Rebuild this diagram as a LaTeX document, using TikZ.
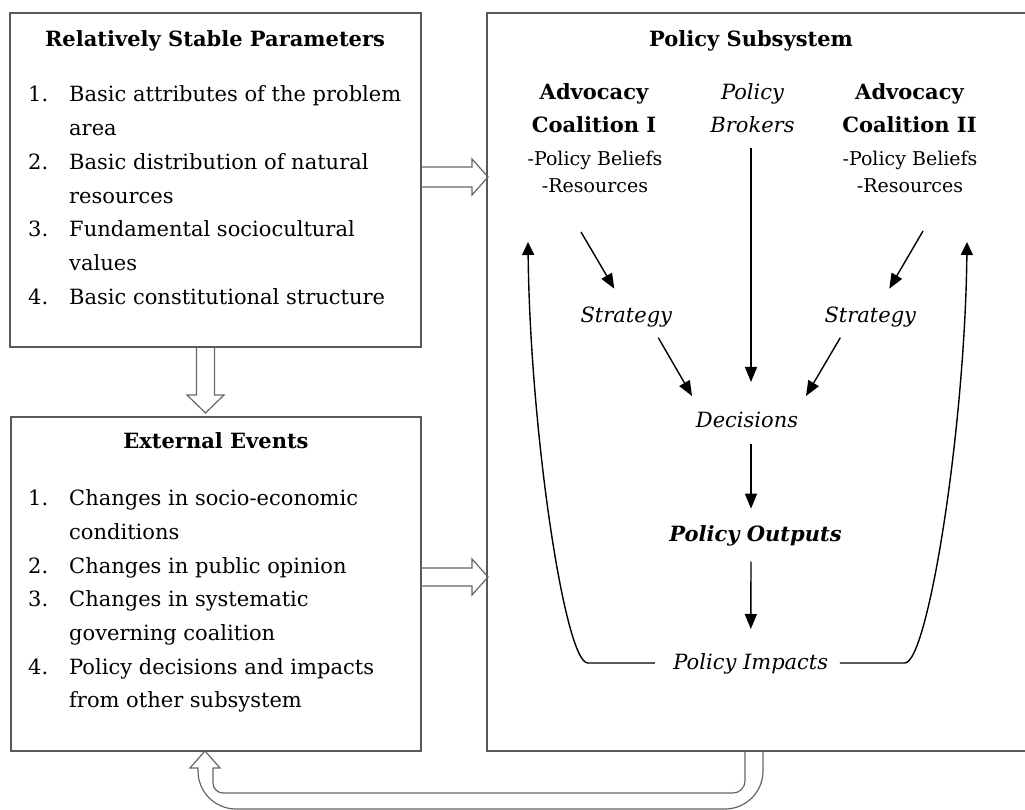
\documentclass[tikz,border=0pt]{standalone}
\usepackage{fontspec}
\setmainfont{DejaVu Serif}
\usepackage{tikz}
\usetikzlibrary{arrows.meta, positioning, calc}
\tikzstyle{panel} = [draw=black!65, line width=1.6pt, rectangle, inner sep=0pt, outer sep=0pt]
\tikzstyle{heading} = [font=\fontsize{21}{30}\selectfont\bfseries, anchor=base, inner sep=0pt]
\tikzstyle{listtext} = [font=\fontsize{21}{33.7}\selectfont, anchor=base west, inner sep=0pt]
\tikzstyle{actor} = [font=\fontsize{21}{33.3}\selectfont\bfseries, align=center, anchor=base, inner sep=0pt]
\tikzstyle{broker} = [font=\fontsize{21}{33}\selectfont\itshape, align=center, anchor=base, inner sep=0pt]
\tikzstyle{resources} = [font=\fontsize{19}{26.3}\selectfont, align=center, anchor=base, inner sep=0pt]
\tikzstyle{stage} = [font=\fontsize{21}{25}\selectfont\itshape, anchor=base, inner sep=0pt]
\tikzstyle{result} = [font=\fontsize{21}{25}\selectfont\bfseries\itshape, anchor=base, inner sep=0pt]
\tikzstyle{arrow} = [line width=1.4pt, -{Triangle[length=15pt,width=12pt]}]
\tikzstyle{feedback} = [line width=1.4pt, -{Triangle[length=13pt,width=12pt]}]
\tikzstyle{hollow} = [draw=black!60, line width=1.2pt, line join=miter]

\begin{document}
\begin{tikzpicture}[x=1pt, y=1pt]
    \useasboundingbox (0,0) rectangle (1025,810);

    % the three panels
    \node (stable) [panel, minimum width=411pt, minimum height=334pt] at (215.5,630) {};
    \node (events) [panel, minimum width=410pt, minimum height=334pt] at (216,226) {};
    \node (subsys) [panel, minimum width=548pt, minimum height=738pt] at (761,428) {};

    \node (stabletitle) [heading] at (215,763) {Relatively Stable Parameters};
    \node (stablelist) [listtext] at (28,708) {\begin{tabular}[t]{@{}p{41pt}@{}l@{}}
        1. & Basic attributes of the problem\\
           & area\\
        2. & Basic distribution of natural\\
           & resources\\
        3. & Fundamental sociocultural\\
           & values\\
        4. & Basic constitutional structure
    \end{tabular}};

    \node (eventstitle) [heading] at (216,361) {External Events};
    \node (eventslist) [listtext] at (28,304.3) {\begin{tabular}[t]{@{}p{41pt}@{}l@{}}
        1. & Changes in socio-economic\\
           & conditions\\
        2. & Changes in public opinion\\
        3. & Changes in systematic\\
           & governing coalition\\
        4. & Policy decisions and impacts\\
           & from other subsystem
    \end{tabular}};

    \node (subsystitle) [heading] at (751,763) {Policy Subsystem};
    \node (coalone) [actor] at (594,677) {Advocacy\\Coalition I};
    \node (beliefsone) [resources] at (595,617.7) {-Policy Beliefs\\-Resources};
    \node (brokers) [broker] at (752.5,677) {Policy\\Brokers};
    \node (coaltwo) [actor] at (909.5,677) {Advocacy\\Coalition II};
    \node (beliefstwo) [resources] at (910,617.7) {-Policy Beliefs\\-Resources};
    \node (stratone) [stage] at (626.3,487.3) {Strategy};
    \node (strattwo) [stage] at (870.3,487.3) {Strategy};
    \node (decisions) [stage] at (747,382) {Decisions};
    \node (outputs) [result] at (755.5,268.3) {Policy Outputs};
    \node (impacts) [stage] at (750.8,140) {Policy Impacts};

    % hollow block arrows between panels
    \draw [hollow] ([yshift=13pt]stable.east) -- ++(51,0) -- ++(0,8) -- ++(16,-18) -- ++(-16,-18) -- ++(0,8) -- ++(-51,0);
    \draw [hollow] ([yshift=16pt]events.east) -- ++(51,0) -- ++(0,9) -- ++(16,-18) -- ++(-16,-18) -- ++(0,9) -- ++(-51,0);
    \draw [hollow] ([xshift=-19pt]stable.south) -- ++(0,-48) -- ++(-9.5,0) -- ++(18.5,-18) -- ++(18.5,18) -- ++(-9.5,0) -- ++(0,48);
    \draw [hollow] ([xshift=-16pt]subsys.south) -- ++(0,-30) arc[start angle=0, end angle=-90, radius=12pt] -- ++(-510,0) arc[start angle=270, end angle=180, radius=10pt] -- ++(0,15) -- ++(7,0) -- ([xshift=-11pt]events.south) -- ++(-15,-17) -- ++(8,0) -- ++(0,-3) arc[start angle=180, end angle=270, radius=38pt] -- ++(489,0) arc[start angle=270, end angle=360, radius=38pt] -- ++(0,20);

    % flow inside the subsystem
    \draw [arrow] ([shift={(-14,-39.7)}]beliefsone.base) -- ([shift={(-12,34)}]stratone.base);
    \draw [arrow] ([shift={(13,-38.7)}]beliefstwo.base) -- ([shift={(19,34)}]strattwo.base);
    \draw [arrow] ([shift={(-1.5,-15)}]brokers.base) -- ([shift={(4,46)}]decisions.base);
    \draw [arrow] ([shift={(32,-15)}]stratone.base) -- ([shift={(-55,32)}]decisions.base);
    \draw [arrow] ([shift={(-30,-15)}]strattwo.base) -- ([shift={(59,32)}]decisions.base);
    \draw [arrow] ([shift={(4,-16)}]decisions.base) -- ([shift={(-4.5,33)}]outputs.base);
    \draw [arrow] ([shift={(-4.5,-20)}]outputs.base) -- ([shift={(0,41)}]impacts.base);

    % feedback from impacts
    \draw [feedback] ([shift={(-96,7)}]impacts.base) -- ++(-67,0) .. controls ++(-23,0) and (530,380) .. ([shift={(-67,-49.7)}]beliefsone.base);
    \draw [feedback] ([shift={(89,7)}]impacts.base) -- ++(65,0) .. controls ++(23,0) and (965,380) .. ([shift={(57,-49.7)}]beliefstwo.base);
\end{tikzpicture}
\end{document}
